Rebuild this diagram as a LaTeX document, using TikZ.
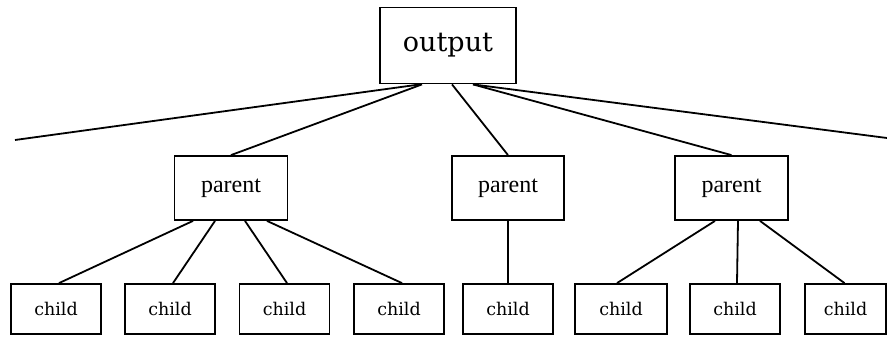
\documentclass[tikz,border=0pt]{standalone}
\usepackage{fontspec}
\setmainfont{DejaVu Serif}
\newfontfamily\parentfont{Liberation Serif}
\begin{document}
\begin{tikzpicture}[x=1pt,y=-1pt,
  box/.style={draw,line width=1.8pt,rectangle,inner sep=0pt},
  outbox/.style={box,minimum width=136pt,minimum height=76pt,font=\fontsize{27}{30}\selectfont},
  parbox/.style={box,minimum width=113pt,minimum height=64pt,font=\parentfont\fontsize{24}{26}\selectfont},
  kidbox/.style={box,minimum width=90pt,minimum height=50pt,font=\fontsize{17.5}{20}\selectfont},
  edge/.style={line width=1.8pt}]
\useasboundingbox (0,0) rectangle (887,337);
\node[outbox] (out) at (448,45.5) {output};
\node[parbox] (p1) at (231,188) {parent};
\node[parbox,minimum width=112pt] (p2) at (508,188) {parent};
\node[parbox] (p3) at (731.5,188) {parent};
\node[kidbox] (c1) at (56,309) {child};
\node[kidbox] (c2) at (170,309) {child};
\node[kidbox] (c3) at (284.5,309) {child};
\node[kidbox] (c4) at (399,309) {child};
\node[kidbox] (c5) at (508,309) {child};
\node[kidbox,minimum width=92pt] (c6) at (621,309) {child};
\node[kidbox] (c7) at (735,309) {child};
\node[kidbox,minimum width=81pt] (c8) at (845.5,309) {child};
\coordinate (L) at (15,140);
\coordinate (R) at (887,138);
\draw[edge] ([xshift=-28pt]out.south) -- (L);
\draw[edge] ([xshift=-26pt]out.south) -- (p1.north);
\draw[edge] ([xshift=4pt]out.south) -- (p2.north);
\draw[edge] ([xshift=25pt]out.south) -- (p3.north);
\draw[edge] ([xshift=25pt]out.south) -- (R);
\draw[edge] ([xshift=-38pt]p1.south) -- ([xshift=3pt]c1.north);
\draw[edge] ([xshift=-16pt]p1.south) -- ([xshift=3pt]c2.north);
\draw[edge] ([xshift=14pt]p1.south) -- ([xshift=2.5pt]c3.north);
\draw[edge] ([xshift=36pt]p1.south) -- ([xshift=3pt]c4.north);
\draw[edge] (p2.south) -- (c5.north);
\draw[edge] ([xshift=-16.5pt]p3.south) -- ([xshift=-4pt]c6.north);
\draw[edge] ([xshift=6.5pt]p3.south) -- ([xshift=2pt]c7.north);
\draw[edge] ([xshift=28.5pt]p3.south) -- ([xshift=-1pt]c8.north);
\end{tikzpicture}
\end{document}
